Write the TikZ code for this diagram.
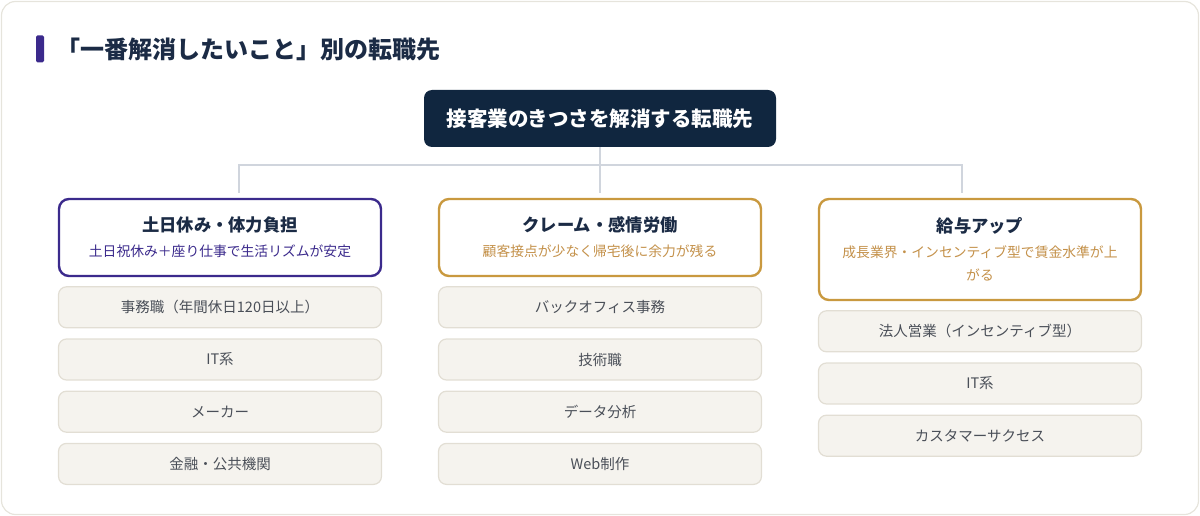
\documentclass[tikz,border=0pt]{standalone}
\usepackage{fontspec}
\setmainfont{Noto Sans CJK JP}
\usepackage{tikz}
\usepackage{xcolor}
\usetikzlibrary{positioning}
\definecolor{navy}{HTML}{10263F}
\definecolor{inktext}{HTML}{1B2B45}
\definecolor{indigo}{HTML}{3B2A8C}
\definecolor{gold}{HTML}{C9993F}
\definecolor{goldtext}{HTML}{C4914A}
\definecolor{linkgray}{HTML}{D0D5DD}
\definecolor{itemfill}{HTML}{F5F3EE}
\definecolor{itemline}{HTML}{E2DED4}
\definecolor{itemtext}{HTML}{4A4F58}
\definecolor{framegray}{HTML}{E6E4DC}
\tikzset{
    frame-box/.style = {draw=framegray, line width=1.2pt, rounded corners=14pt},
    title-bar/.style = {fill=indigo, rectangle, rounded corners=1.5pt, minimum width=8pt, minimum height=27pt, inner sep=0pt},
    title-text/.style = {anchor=west, inner sep=0pt, text=inktext, font=\fontsize{24}{28}\selectfont\bfseries},
    root-box/.style = {fill=navy, rectangle, rounded corners=8pt, minimum width=352pt, minimum height=57pt, inner sep=0pt, text=white, font=\fontsize{20.5}{24}\selectfont\bfseries},
    cat-box/.style = {fill=white, rectangle, rounded corners=10pt, line width=2.4pt, minimum width=322pt, inner sep=0pt, align=center, text=inktext, font=\fontsize{17.3}{20}\selectfont\bfseries},
    item-box/.style = {draw=itemline, fill=itemfill, rectangle, rounded corners=8pt, line width=1.2pt, minimum width=323pt, minimum height=41pt, inner sep=0pt, text=itemtext, font=\fontsize{14.5}{17}\selectfont},
    link/.style = {draw=linkgray, line width=2pt},
}
\newcommand{\catsub}[1]{{\fontsize{13.8}{16}\selectfont\mdseries #1}}
\begin{document}
\begin{tikzpicture}[x=1pt,y=-1pt]
\useasboundingbox (0,0) rectangle (1200,516);
\draw[frame-box] (1.5,1.5) rectangle (1198.5,514.5);

% heading
\node[title-bar] (bar) at (40,49) {};
\node[title-text] (heading) at (56,49) {「一番解消したいこと」別の転職先};

% root
\node[root-box] (root) at (600,118.5) {接客業のきつさを解消する転職先};

% categories
\node[cat-box, draw=indigo, minimum height=77pt] (holiday) at (220,237.5)
    {土日休み・体力負担\\[5pt]\catsub{\color{indigo}土日祝休み＋座り仕事で生活リズムが安定}};
\node[cat-box, draw=gold, minimum height=77pt] (claim) at (600,237.5)
    {クレーム・感情労働\\[5pt]\catsub{\color{goldtext}顧客接点が少なく帰宅後に余力が残る}};
\node[cat-box, draw=gold, minimum height=101pt] (salary) at (980,249.5)
    {給与アップ\\[5pt]\catsub{\color{goldtext}成長業界・インセンティブ型で賃金水準が上}\\[3pt]\catsub{\color{goldtext}がる}};

% connectors
\coordinate (bus) at (600,165);
\coordinate (drop1) at (239,193);
\coordinate (drop2) at (600,193);
\coordinate (drop3) at (962,193);
\draw[link] (root.south) -- (drop2);
\draw[link] (drop1) |- (bus) -| (drop3);

% jobs
\node[item-box, below=9pt of holiday] (h1) {事務職（年間休日120日以上）};
\node[item-box, below=10pt of h1] (h2) {IT系};
\node[item-box, below=10pt of h2] (h3) {メーカー};
\node[item-box, below=10pt of h3] (h4) {金融・公共機関};

\node[item-box, below=9pt of claim] (c1) {バックオフィス事務};
\node[item-box, below=10pt of c1] (c2) {技術職};
\node[item-box, below=10pt of c2] (c3) {データ分析};
\node[item-box, below=10pt of c3] (c4) {Web制作};

\node[item-box, below=9pt of salary] (s1) {法人営業（インセンティブ型）};
\node[item-box, below=10pt of s1] (s2) {IT系};
\node[item-box, below=10pt of s2] (s3) {カスタマーサクセス};
\end{tikzpicture}
\end{document}
